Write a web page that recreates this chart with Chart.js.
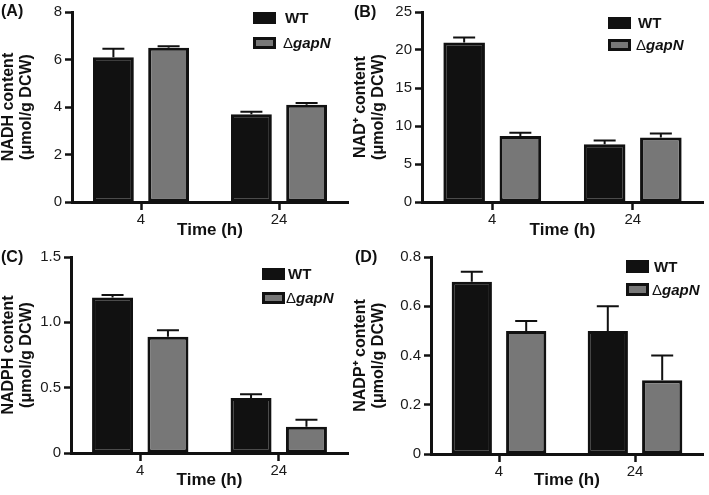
<!DOCTYPE html>
<html>
<head>
<meta charset="utf-8">
<script src="https://cdn.jsdelivr.net/npm/chart.js@4/dist/chart.umd.min.js"></script>
<style>
    body { margin: 0; background: #fff; width: 709px; height: 495px; position: relative; overflow: hidden; }
    canvas { position: absolute; }
</style>
</head>
<body>
<canvas id="cA" width="352" height="245" style="left:0;top:0"></canvas>
<canvas id="cB" width="357" height="245" style="left:352px;top:0"></canvas>
<canvas id="cC" width="352" height="250" style="left:0;top:245px"></canvas>
<canvas id="cD" width="357" height="250" style="left:352px;top:245px"></canvas>
<script>
// categories (time points)
var times = ['4', '24'];

// (A) NADH
var nadhWT = [6.1, 3.7];
var nadhWTErr = [0.35, 0.1];
var nadhGap = [6.5, 4.1];
var nadhGapErr = [0.06, 0.07];

// (B) NAD+
var nadWT = [21.0, 7.6];
var nadWTErr = [0.65, 0.5];
var nadGap = [8.7, 8.5];
var nadGapErr = [0.4, 0.5];

// (C) NADPH
var nadphWT = [1.19, 0.42];
var nadphWTErr = [0.02, 0.03];
var nadphGap = [0.89, 0.2];
var nadphGapErr = [0.05, 0.055];

// (D) NADP+
var nadpWT = [0.7, 0.5];
var nadpWTErr = [0.04, 0.1];
var nadpGap = [0.5, 0.3];
var nadpGapErr = [0.04, 0.1];

var FONT = '"Liberation Sans", Arial, Helvetica, sans-serif';
var INK = '#111';
var GREY = '#777';

// one-sided (upper) error bars, drawn through the y scale
var errorBars = {
    id: 'errorBars',
    afterDatasetsDraw: function (chart) {
        var ctx = chart.ctx;
        var yScale = chart.scales.y;
        ctx.save();
        ctx.strokeStyle = INK;
        ctx.lineWidth = 2;
        chart.data.datasets.forEach(function (ds, i) {
            var meta = chart.getDatasetMeta(i);
            meta.data.forEach(function (bar, j) {
                var yTop = yScale.getPixelForValue(ds.data[j] + ds.errors[j]);
                ctx.beginPath();
                ctx.moveTo(bar.x, bar.y);
                ctx.lineTo(bar.x, yTop);
                ctx.moveTo(bar.x - 11, yTop);
                ctx.lineTo(bar.x + 11, yTop);
                ctx.stroke();
            });
        });
        ctx.restore();
    }
};

// panel letter + legend box
var panelDecor = {
    id: 'panelDecor',
    afterDraw: function (chart) {
        var o = chart.options.plugins.panelDecor;
        var ctx = chart.ctx;
        ctx.save();
        ctx.fillStyle = INK;
        ctx.textBaseline = 'middle';
        ctx.font = 'bold 16px ' + FONT;
        ctx.fillText(o.letter, o.letterX, o.letterY);

        var lg = o.legend;
        ctx.fillStyle = INK;
        ctx.fillRect(lg.x, lg.y1, 23, lg.h);
        ctx.fillStyle = GREY;
        ctx.fillRect(lg.x, lg.y2, 23, lg.h);
        ctx.strokeStyle = INK;
        ctx.lineWidth = 3;
        ctx.strokeRect(lg.x + 1.5, lg.y2 + 1.5, 20, lg.h - 3);

        ctx.fillStyle = INK;
        ctx.font = 'bold 15px ' + FONT;
        ctx.fillText('WT', lg.tx, lg.y1 + lg.h / 2 + 1);
        ctx.font = '15px ' + FONT;
        ctx.fillText('\u0394', lg.tx - 2, lg.y2 + lg.h / 2 + 1);
        var w = ctx.measureText('\u0394').width;
        ctx.font = 'italic bold 15px ' + FONT;
        ctx.fillText('gapN', lg.tx - 2 + w, lg.y2 + lg.h / 2 + 1);
        ctx.restore();
    }
};

function makePanel(id, p) {
    return new Chart(document.getElementById(id), {
        type: 'bar',
        data: {
            labels: times,
            datasets: [
                { label: 'WT', data: p.wt, errors: p.wtErr, backgroundColor: INK },
                { label: '\u0394gapN', data: p.gap, errors: p.gapErr, backgroundColor: GREY }
            ]
        },
        options: {
            responsive: false,
            animation: false,
            layout: { padding: { left: 0, top: p.padTop, right: p.padRight, bottom: 0 } },
            datasets: {
                bar: {
                    borderColor: INK,
                    borderWidth: 3,
                    borderSkipped: false,
                    categoryPercentage: 0.8,
                    barPercentage: 0.74
                }
            },
            scales: {
                x: {
                    afterFit: function (s) { s.height = p.xHeight; },
                    grid: { offset: false, drawOnChartArea: false, tickLength: 8, tickWidth: 2.5, tickColor: INK },
                    border: { color: INK, width: 3 },
                    ticks: { color: '#1a1a1a', padding: 1, font: { family: FONT, size: 15 } },
                    title: {
                        display: true, text: 'Time (h)', color: INK,
                        padding: { top: 0, bottom: 4 },
                        font: { family: FONT, size: 17, weight: 'bold' }
                    }
                },
                y: {
                    min: 0, max: p.max,
                    afterFit: function (s) { s.width = p.yWidth; },
                    grid: { drawOnChartArea: false, tickLength: 7, tickWidth: 2.5, tickColor: INK },
                    border: { color: INK, width: 3 },
                    ticks: {
                        stepSize: p.step, color: '#1a1a1a', padding: 3,
                        font: { family: FONT, size: 15 },
                        callback: function (v) { return v === 0 ? '0' : v.toFixed(p.dec); }
                    },
                    title: {
                        display: true, text: p.yTitle, color: INK,
                        padding: { top: 0, bottom: 0 },
                        font: { family: FONT, size: 16, weight: 'bold', lineHeight: 1.1 }
                    }
                }
            },
            plugins: {
                legend: { display: false },
                tooltip: { enabled: false },
                panelDecor: p.decor
            }
        },
        plugins: [errorBars, panelDecor]
    });
}

makePanel('cA', {
    wt: nadhWT, wtErr: nadhWTErr, gap: nadhGap, gapErr: nadhGapErr,
    yTitle: ['NADH content', '(\u03bcmol/g DCW)'], max: 8, step: 2, dec: 0,
    padTop: 5, padRight: 4, yWidth: 72, xHeight: 43,
    decor: { letter: '(A)', letterX: 1, letterY: 12, legend: { x: 253, y1: 12, y2: 37, h: 12, tx: 285 } }
});
makePanel('cB', {
    wt: nadWT, wtErr: nadWTErr, gap: nadGap, gapErr: nadGapErr,
    yTitle: ['NAD\u207a content', '(\u03bcmol/g DCW)'], max: 25, step: 5, dec: 0,
    padTop: 4, padRight: 6, yWidth: 70, xHeight: 43,
    decor: { letter: '(B)', letterX: 2, letterY: 13, legend: { x: 256, y1: 17, y2: 39, h: 12, tx: 286 } }
});
makePanel('cC', {
    wt: nadphWT, wtErr: nadphWTErr, gap: nadphGap, gapErr: nadphGapErr,
    yTitle: ['NADPH content', '(\u03bcmol/g DCW)'], max: 1.5, step: 0.5, dec: 1,
    padTop: 10, padRight: 4, yWidth: 71, xHeight: 42,
    decor: { letter: '(C)', letterX: 1, letterY: 13, legend: { x: 262, y1: 23, y2: 47, h: 12, tx: 288 } }
});
makePanel('cD', {
    wt: nadpWT, wtErr: nadpWTErr, gap: nadpGap, gapErr: nadpGapErr,
    yTitle: ['NADP\u207a content', '(\u03bcmol/g DCW)'], max: 0.8, step: 0.2, dec: 1,
    padTop: 12, padRight: 6, yWidth: 79, xHeight: 41,
    decor: { letter: '(D)', letterX: 3, letterY: 13, legend: { x: 274, y1: 15, y2: 38, h: 13, tx: 302 } }
});
</script>
</body>
</html>
